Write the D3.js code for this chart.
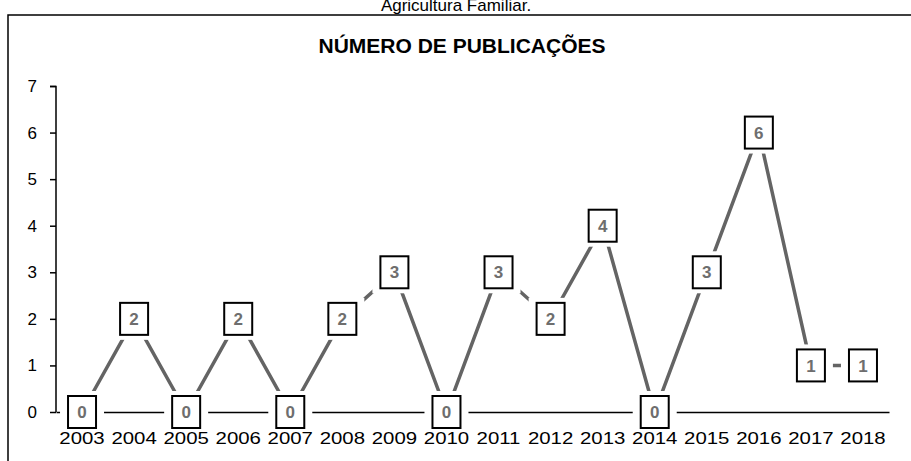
<!DOCTYPE html>
<html><head><meta charset="utf-8">
<script src="https://cdn.jsdelivr.net/npm/d3@7"></script>
<style>body{margin:0;background:#fff}svg{display:block;font-family:Arial,"Liberation Sans",sans-serif}</style>
</head><body><svg id="c" width="911" height="461"></svg>
<script>
const years = ["2003","2004","2005","2006","2007","2008","2009","2010","2011","2012","2013","2014","2015","2016","2017","2018"];
const publications = [0,2,0,2,0,2,3,0,3,2,4,0,3,6,1,1];
const yTicks = [0,1,2,3,4,5,6,7];
const chartTitle = "NÚMERO DE PUBLICAÇÕES";
const caption = "Agricultura Familiar.";

const svg = d3.select("#c");
const data = years.map((y,i)=>({year:y,value:publications[i]}));

// caption (cut off at top, as in the reference)
svg.append("text").attr("x",456).attr("y",11).attr("text-anchor","middle")
  .attr("font-size",17).attr("fill","#000").text(caption);

// frame
svg.append("path").attr("d","M8,470 L8,15 L920,15").attr("fill","none").attr("stroke","#000").attr("stroke-width",1.5);

svg.append("text").attr("x",462).attr("y",53).attr("text-anchor","middle")
  .attr("font-size",21).attr("font-weight","bold").text(chartTitle);

const x = d3.scaleBand().domain(years).range([56,889]).padding(0);
const y = d3.scaleLinear().domain([0,7]).range([412,86]);
const cx = d=>x(d.year)+x.bandwidth()/2;

// y axis
const ya = svg.append("g").attr("transform","translate(56,0)")
  .call(d3.axisLeft(y).tickValues(yTicks).tickSize(6).tickPadding(13).tickFormat(d3.format("d")));
ya.select(".domain").attr("stroke","#000").attr("stroke-width",1.5).attr("d","M-6,86.5H0V412");
ya.selectAll(".tick line").attr("stroke","#000").attr("stroke-width",1.5);
ya.selectAll(".tick text").attr("font-size",17).attr("fill","#000").attr("font-family","Arial, 'Liberation Sans', sans-serif");

// x axis line
const xa = svg.append("g").attr("transform","translate(0,412)")
  .call(d3.axisBottom(x).tickSize(0).tickFormat(""));
xa.select(".domain").attr("stroke","#000").attr("stroke-width",1.5);

// line
svg.append("path").datum(data)
  .attr("d",d3.line().x(cx).y(d=>y(d.value)))
  .attr("fill","none").attr("stroke","#646464").attr("stroke-width",3.5);

// labels
const bw=28,bh=32,px=8,py=5;
const lab = svg.append("g").selectAll("g").data(data).join("g")
  .attr("transform",d=>`translate(${cx(d)},${y(d.value)})`);
lab.append("rect").attr("x",-bw/2-px).attr("y",-bh/2-py).attr("width",bw+2*px).attr("height",bh+2*py).attr("fill","#fff");
lab.append("rect").attr("x",-bw/2).attr("y",-bh/2).attr("width",bw).attr("height",bh)
  .attr("fill","#fff").attr("stroke","#000").attr("stroke-width",2);
lab.append("text").attr("text-anchor","middle").attr("dy","0.36em")
  .attr("font-size",17).attr("font-weight","bold").attr("fill","#6e6e6e").text(d=>d.value);

// x tick labels (drawn on top)
const xl = svg.append("g").attr("transform","translate(0,412)")
  .call(d3.axisBottom(x).tickSize(0).tickPadding(20));
xl.select(".domain").remove();
xl.selectAll(".tick text").attr("font-size",17).attr("fill","#000").attr("font-family","Arial, 'Liberation Sans', sans-serif")
  .attr("transform","scale(1.2,1)");
</script></body></html>
